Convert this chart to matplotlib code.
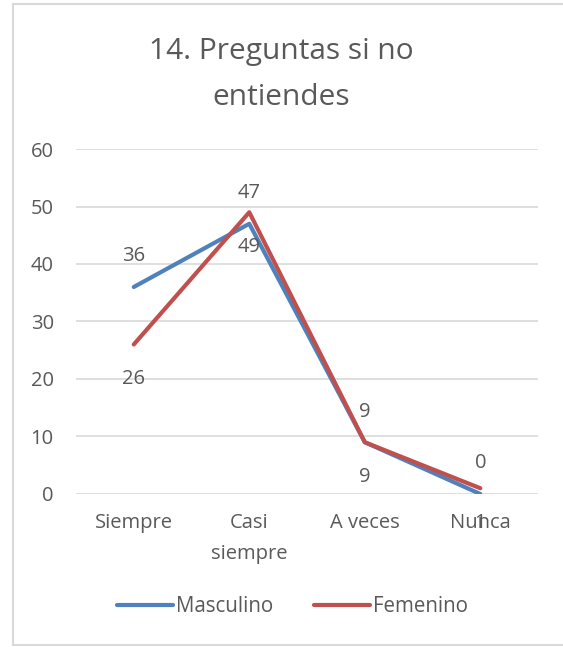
import matplotlib.pyplot as plt
from matplotlib.lines import Line2D

# --- DATOS ---
categorias = ["Siempre", "Casi\nsiempre", "A veces", "Nunca"]
masculino = [36, 47, 9, 0]
femenino = [26, 49, 9, 1]
ticks_y = [0, 10, 20, 30, 40, 50, 60]

AZUL = "#4F81BD"
ROJO = "#C0504D"
TEXTO = "#595959"
REJILLA = "#D9D9D9"

plt.rcParams['font.family'] = ['Open Sans', 'DejaVu Sans']

fig = plt.figure(figsize=(5.63, 6.47), dpi=100)
ax = fig.add_axes([0.135, 0.2365, 0.8207, 0.5332])

x = list(range(len(categorias)))
ax.plot(x, masculino, color=AZUL, linewidth=3, solid_capstyle='round',
        solid_joinstyle='round', label="Masculino", zorder=3)
ax.plot(x, femenino, color=ROJO, linewidth=3, solid_capstyle='round',
        solid_joinstyle='round', label="Femenino", zorder=4)

# etiquetas: masculino arriba, femenino abajo
for xi, v in zip(x, masculino):
    ax.annotate(str(v), (xi, v), xytext=(0, 22), textcoords='offset points',
                ha='center', va='center', fontsize=14.5, color=TEXTO, zorder=5)
for xi, v in zip(x, femenino):
    ax.annotate(str(v), (xi, v), xytext=(0, -25), textcoords='offset points',
                ha='center', va='center', fontsize=14.5, color=TEXTO, zorder=5)

ax.set_xlim(-0.5, 3.5)
ax.set_ylim(0, 60)
ax.set_yticks(ticks_y)
ax.set_xticks(x)
ax.set_xticklabels(categorias, fontsize=14.5, color=TEXTO, linespacing=1.7)
ax.tick_params(axis='y', labelsize=14.5, labelcolor=TEXTO, length=0, pad=16)
ax.tick_params(axis='x', length=0, pad=14)
ax.grid(axis='y', color=REJILLA, linewidth=1.2)
ax.set_axisbelow(True)
for s in ax.spines.values():
    s.set_visible(False)

fig.text(0.5, 0.885, "14. Preguntas si no\nentiendes", ha='center', va='center',
         fontsize=21.5, color=TEXTO, linespacing=1.75)

fig.legend(loc='center', bbox_to_anchor=(0.52, 0.062), ncol=2, frameon=False,
           fontsize=14.8, labelcolor=TEXTO, handlelength=2.7, handletextpad=0.15,
           columnspacing=2.0)

# marco del gráfico
X0, X1, Y0, Y1 = 13 / 563, 562 / 563, 2 / 647, 643 / 647
for xs, ys in [((X0, X0), (Y0, Y1)), ((X0, X1), (Y1, Y1)), ((X0, X1), (Y0, Y0))]:
    fig.add_artist(Line2D(xs, ys, transform=fig.transFigure,
                          color=REJILLA, linewidth=1.5))

fig.savefig("out.png", dpi=100)
